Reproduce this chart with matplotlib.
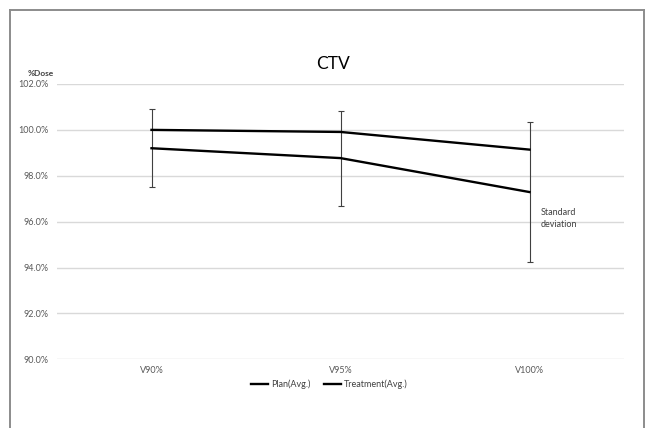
import numpy as np
import matplotlib.pyplot as plt
from matplotlib.lines import Line2D
from matplotlib.ticker import FuncFormatter

plt.rcParams['font.family'] = ['Lato', 'DejaVu Sans']

categories = ['V90%', 'V95%', 'V100%']
plan_avg = [100.0, 99.91, 99.14]
treatment_avg = [99.20, 98.77, 97.29]
treatment_sd = [1.69, 2.07, 3.04]
yticks = [90, 92, 94, 96, 98, 100, 102]

W, H = 646, 428
fig = plt.figure(figsize=(W/100, H/100), dpi=100)
ax = fig.add_axes([57/W, 1-359.3/H, (624-57)/W, (359.3-84)/H])

x = np.arange(len(categories))
ax.errorbar(x, treatment_avg, yerr=treatment_sd, fmt='none', ecolor='#404040',
            elinewidth=0.8, capsize=2.5, capthick=0.8, zorder=3)
ax.plot(x, plan_avg, color='black', lw=1.7, label='Plan(Avg.)', zorder=4)
ax.plot(x, treatment_avg, color='black', lw=1.7, label='Treatment(Avg.)', zorder=4)

ax.set_xlim(-0.5, len(categories)-0.5)
ax.set_ylim(90, 102)
ax.set_yticks(yticks)
ax.yaxis.set_major_formatter(FuncFormatter(lambda v, p: '%.1f%%' % v))
ax.set_xticks(x)
ax.set_xticklabels(categories)
ax.grid(axis='y', color='#d9d9d9', lw=1)
ax.set_axisbelow(True)
for s in ax.spines.values():
    s.set_visible(False)
ax.tick_params(length=0, labelsize=6.5, labelcolor='#595959', pad=6)
ax.tick_params(axis='x', pad=5)

ax.text(2.06, 96.15, 'Standard\ndeviation', fontsize=6.5, color='#404040',
        va='center', ha='left', linespacing=1.4)

fig.text(333/W, 1-64/H, 'CTV', fontsize=12.5, ha='center', va='center', color='black')
fig.text(28/W, 1-73/H, '%Dose', fontsize=6, fontweight='bold', ha='left', va='center',
         color='#404040')

ax.legend(loc='upper center', bbox_to_anchor=(0.48, -0.045), ncol=2, frameon=False,
          fontsize=6.5, handlelength=1.9, handletextpad=0.3, columnspacing=1.5,
          labelcolor='#404040')

# chart border
bc = '#8c8c8c'
fig.add_artist(Line2D([9.5/W, 643.5/W], [1-9.5/H, 1-9.5/H], color=bc, lw=1.4))
fig.add_artist(Line2D([9.5/W, 9.5/W], [0, 1-9.5/H], color=bc, lw=1.4))
fig.add_artist(Line2D([643.5/W, 643.5/W], [0, 1-9.5/H], color=bc, lw=1.4))

fig.savefig('out.png', dpi=100)
